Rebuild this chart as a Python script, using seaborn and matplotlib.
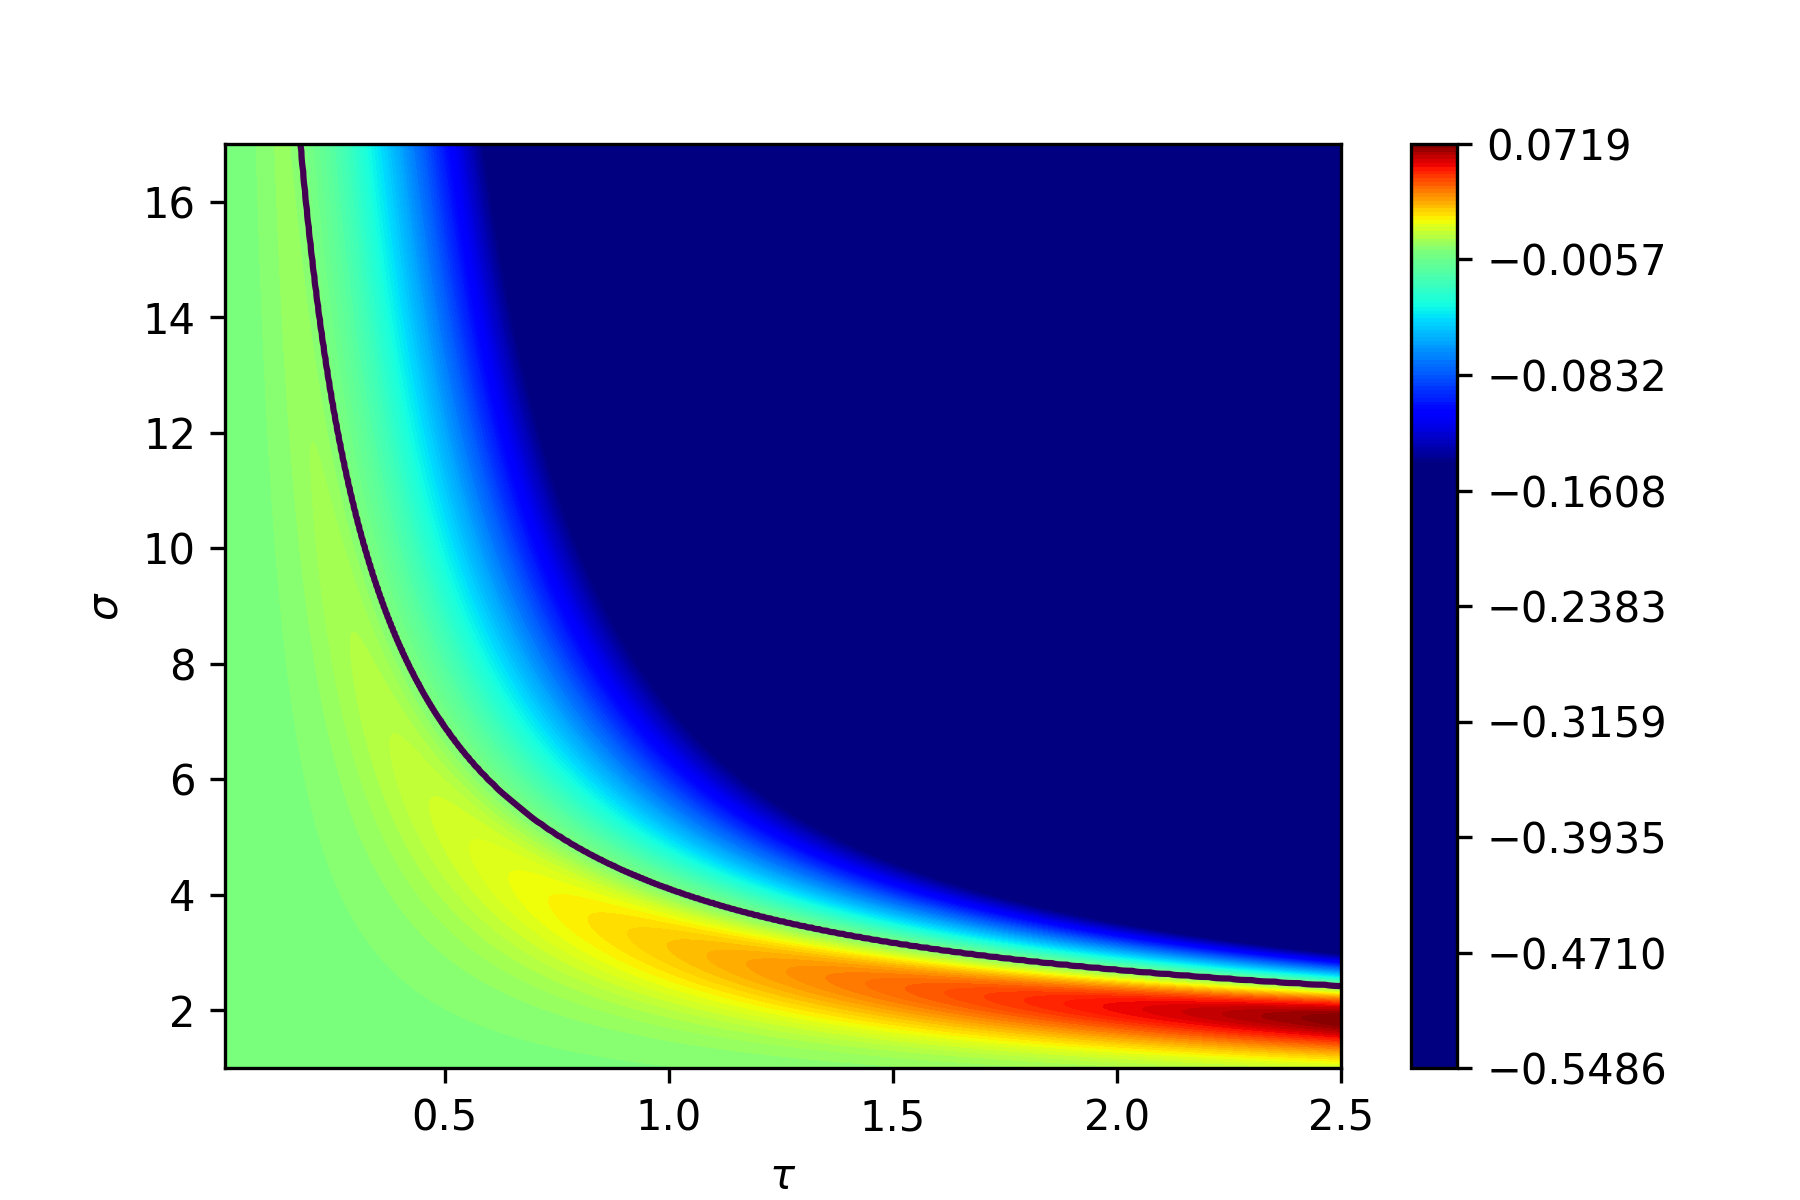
import numpy as np
import matplotlib
matplotlib.use("Agg")
import matplotlib.pyplot as plt
import matplotlib.colors as mcolors
import seaborn as sns

# ---- values ----
TAU_RANGE = [0.01, 2.5]
SIGMA_RANGE = [1.0, 17.0]
Z_MIN = -0.5486
Z_MAX = 0.0719
CBAR_TICK_LABELS = ["\u22120.5486", "\u22120.4710", "\u22120.3935", "\u22120.3159",
                    "\u22120.2383", "\u22120.1608", "\u22120.0832", "\u22120.0057", "0.0719"]
# points on the zero contour (tau, sigma)
ZERO_TAU = [0.18, 0.189, 0.242, 0.463, 0.558, 1.042, 2.5]
ZERO_SIGMA = [17.0, 16.12, 12.81, 7.41, 6.36, 4.0, 2.41]
# ridge position relative to the zero contour, and lobe shape
RIDGE_RATIO = 0.758
LOBE_LOW = 5.0
LOBE_HIGH = 1.6
# negative side: slope vs (sigma/sigma0 - 1), growth with tau, saturation
NEG_RATE = 0.228
NEG_EXP = 1.22
NEG_BEND = 0.25
NORM_LOW = -0.1438
N_LEVELS = 245

# ---- build the field ----
b_coef, a_coef = np.polyfit(1.0 / np.array(ZERO_TAU), np.array(ZERO_SIGMA), 1)
tau = np.linspace(TAU_RANGE[0], TAU_RANGE[1], 600)
sigma = np.linspace(SIGMA_RANGE[0], SIGMA_RANGE[1], 600)
T, S = np.meshgrid(tau, sigma)
sigma0 = a_coef + b_coef / T
r = S / sigma0
amp = Z_MAX * T / TAU_RANGE[1]
rp = RIDGE_RATIO
rr = np.clip(r, 0, 1)
phi = (rr / rp) ** LOBE_LOW * ((1 - rr) / (1 - rp)) ** LOBE_HIGH
zpos = amp * phi
d = np.clip(r - 1, 0, None)
K = NEG_RATE * T ** NEG_EXP
lin = K * d / (1 + NEG_BEND * d)
zneg = -abs(Z_MIN) * np.tanh(lin / abs(Z_MIN))
Z = np.where(r <= 1, zpos, zneg)
Z = np.clip(Z, Z_MIN, Z_MAX)

# ---- draw ----
sns.set_style("white")
plt.rcParams.update(matplotlib.rcParamsDefault)
fig, ax = plt.subplots(figsize=(6, 4), dpi=300)
cmap = matplotlib.colormaps["jet"]
norm = mcolors.TwoSlopeNorm(vmin=NORM_LOW, vcenter=0.0, vmax=Z_MAX)
levels = np.linspace(Z_MIN, Z_MAX, N_LEVELS)
cf = ax.contourf(T, S, Z, levels=levels, cmap=cmap, norm=norm)
ax.contour(T, S, Z, levels=[0.0], colors="#440154", linewidths=1.5)
ax.set_xlabel(r"$\tau$")
ax.set_ylabel(r"$\sigma$")
cbar = fig.colorbar(cf, ax=ax)
cbar.set_ticks(np.linspace(Z_MIN, Z_MAX, 9))
cbar.set_ticklabels(CBAR_TICK_LABELS)
fig.savefig("out.png", dpi=300)
